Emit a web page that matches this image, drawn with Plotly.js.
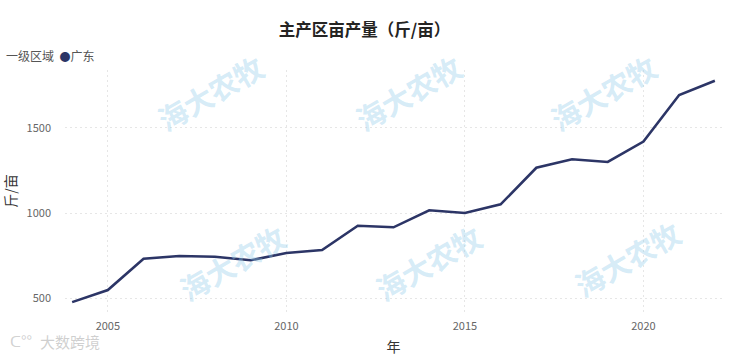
<!DOCTYPE html>
<html><head><meta charset="utf-8">
<script src="https://cdn.plot.ly/plotly-3.0.1.min.js"></script>
<style>html,body{margin:0;padding:0;background:#fff}#c{width:729px;height:356px}</style>
</head><body><div id="c"></div>
<script>
const years = [2004,2005,2006,2007,2008,2009,2010,2011,2012,2013,2014,2015,2016,2017,2018,2019,2020,2021,2022];
const guangdong = [476,547,731,747,743,722,765,782,925,916,1016,1000,1051,1266,1316,1300,1420,1694,1778];
const xTicks = [2005,2010,2015,2020];
const yTicks = [500,1000,1500];
const seriesName = '广东';
const legendTitle = '一级区域';
const chartTitle = '主产区亩产量（斤/亩）';
const xTitle = '年';
const yTitle = '斤/亩';
const lineColor = '#2c3566';
const font = '"Noto Sans CJK SC", "Noto Sans", sans-serif';

const L = 65, T = 70, W = 657, H = 242;
const px = x => (x - L) / W;
const py = y => 1 - (y - T) / H;

const ann = [];
const wmPos = [[210,92],[408,92],[603,92],[232,262],[428,262],[627,258]];
wmPos.forEach(p => ann.push({text:'<b>海大农牧</b>', xref:'paper', yref:'paper',
  x:px(p[0]), y:py(p[1]), xanchor:'center', yanchor:'middle', showarrow:false, textangle:-30,
  font:{family:font, size:29, color:'rgba(150,205,235,0.4)'}}));
ann.push({text:'大数跨境', xref:'paper', yref:'paper', x:px(38), y:py(341),
  xanchor:'left', yanchor:'middle',
  showarrow:false, font:{family:font, size:15, color:'rgba(175,175,175,0.6)'}});
ann.push({text:'ᑕ°°', xref:'paper', yref:'paper', x:px(8), y:py(340),
  xanchor:'left', yanchor:'middle', showarrow:false, font:{family:font, size:15, color:'rgba(185,185,185,0.65)'}});
ann.push({text:legendTitle + '  <span style="color:'+lineColor+';font-size:11px">●</span>' + seriesName,
  xref:'paper', yref:'paper', x:px(4), y:py(55), xanchor:'left', yanchor:'middle', showarrow:false,
  font:{family:font, size:12, color:'#555'}});

const traces = [
  {x:years, y:guangdong, type:'scatter', mode:'lines', name:seriesName, showlegend:false,
   line:{color:lineColor, width:2.6}}
];
const layout = {
  width:729, height:356,
  margin:{l:L, r:729-L-W, t:T, b:356-T-H},
  paper_bgcolor:'#fff', plot_bgcolor:'#fff',
  font:{family:font, color:'#555'},
  title:{text:'<b>'+chartTitle+'</b>', x:0.5, xanchor:'center', y:0.915, yanchor:'middle',
    font:{family:font, size:16.5, color:'#252423'}},
  showlegend:false,
  xaxis:{range:[2003.8,2022.2], tickvals:xTicks, ticktext:xTicks.map(String),
    showgrid:true, gridcolor:'#e6e6e6', griddash:'2px,3px', gridwidth:1,
    zeroline:false, showline:false, ticks:'', ticklabelstandoff:6,
    tickfont:{size:11, color:'#666'},
    title:{text:xTitle, font:{size:14, color:'#333'}, standoff:10}},
  yaxis:{range:[418,1841], tickvals:yTicks, ticktext:yTicks.map(String),
    showgrid:true, gridcolor:'#e6e6e6', griddash:'2px,3px', gridwidth:1,
    zeroline:false, showline:false, ticks:'', ticklabelstandoff:13,
    tickfont:{size:11, color:'#666'},
    title:{text:yTitle, font:{size:14, color:'#333'}, standoff:10}},
  annotations:ann
};
Plotly.newPlot('c', traces, layout, {displayModeBar:false, staticPlot:true});
</script></body></html>
